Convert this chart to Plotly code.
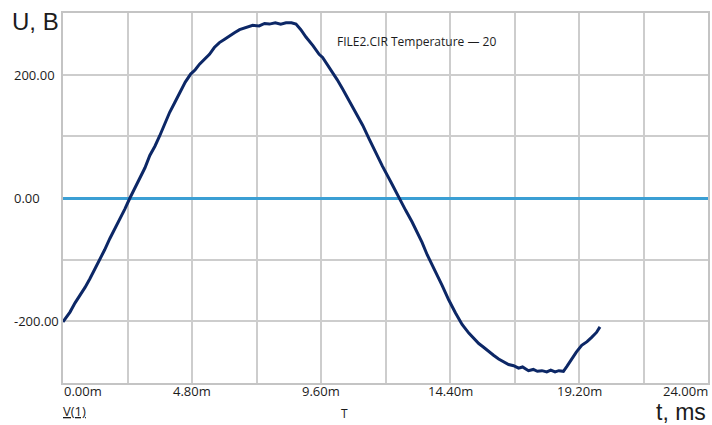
import plotly.graph_objects as go

# Transient response of node V(1): time in ms, voltage in volts
t_ms = [0.00, 0.26, 0.45, 0.63, 0.82, 1.00, 1.18, 1.37, 1.55, 1.74, 1.92, 2.11, 2.30, 2.49,
        2.67, 2.86, 3.05, 3.23, 3.42, 3.60, 3.79, 3.97, 4.15, 4.34, 4.55, 4.75, 4.92, 5.08,
        5.26, 5.45, 5.63, 5.82, 6.00, 6.19, 6.38, 6.57, 6.80, 7.06, 7.30, 7.50, 7.68, 7.90,
        8.10, 8.30, 8.50, 8.67, 8.85, 9.04, 9.30, 9.53, 9.66, 9.85, 10.03, 10.20, 10.40,
        10.65, 10.89, 11.15, 11.39, 11.63, 11.88, 12.20, 12.50, 12.75, 12.99, 13.18, 13.36,
        13.55, 13.74, 13.92, 14.11, 14.35, 14.60, 14.85, 15.10, 15.30, 15.47, 15.65, 15.84,
        16.02, 16.21, 16.40, 16.58, 16.77, 16.95, 17.10, 17.32, 17.50, 17.65, 17.82, 18.00,
        18.15, 18.31, 18.45, 18.62, 18.75, 18.93, 19.10, 19.30, 19.50, 19.67, 19.85, 19.98]
u_volts = [-201, -185, -170, -158, -145, -131, -116, -99, -84, -66, -51, -34, -18, 0,
           15, 31, 49, 69, 84, 101, 121, 139, 154, 171, 188, 201, 208, 217,
           224, 233, 244, 252, 257, 263, 268, 273, 276, 280, 279, 283, 282, 284,
           282, 284, 284, 282, 273, 261, 247, 233, 228, 216, 204, 192, 177,
           158, 139, 118, 96, 74, 52, 26, 0, -20, -39, -55, -72,
           -92, -110, -125, -142, -165, -186, -205, -219, -229, -236, -242, -249,
           -255, -261, -266, -270, -272, -276, -274, -280, -278, -281, -280, -282,
           -279, -282, -280, -281, -273, -261, -250, -239, -233, -226, -218, -209]

x_tick_vals = [0.0, 4.8, 9.6, 14.4, 19.2, 24.0]
x_tick_text = ["0.00m", "4.80m", "9.60m", "14.40m", "19.20m", "24.00m"]
y_tick_vals = [200, 0, -200]
y_tick_text = ["200.00", "0.00", "-200.00"]

W, H = 712, 425
ML, MR, MT, MB = 63, 2, 13, 42
PW, PH = W - ML - MR, H - MT - MB


def px_x(px):
    return (px - ML) / PW


def px_y(py):
    return 1 - (py - MT) / PH


LABEL_FONT = dict(family="Open Sans", size=13, color="#1c1c1c")
AXIS_NAME_FONT = dict(family="Liberation Sans", size=23, color="#1c1c1c")
GRID = "#cdcdcd"

fig = go.Figure()
fig.add_trace(go.Scatter(
    x=t_ms, y=u_volts, mode="lines",
    line=dict(color="#0c2766", width=3),
    hoverinfo="skip", showlegend=False,
))

annotations = []
# x tick labels: outer ones kept inside the frame
for v, txt in zip(x_tick_vals, x_tick_text):
    if v == x_tick_vals[0]:
        anchor, xs = "left", 0
    elif v == x_tick_vals[-1]:
        anchor, xs = "right", 1
    else:
        anchor, xs = "center", 0
    annotations.append(dict(x=v, y=0, xref="x", yref="paper", text=txt, showarrow=False,
                            xanchor=anchor, yanchor="middle", yshift=-7.5, xshift=xs,
                            borderpad=0, font=LABEL_FONT))
# y tick labels, left aligned
for v, txt in zip(y_tick_vals, y_tick_text):
    annotations.append(dict(x=px_x(13), y=v, xref="paper", yref="y", text=txt,
                            showarrow=False, xanchor="left", yanchor="middle",
                            borderpad=0, font=LABEL_FONT))

annotations += [
    dict(x=px_x(11), y=px_y(21), xref="paper", yref="paper", text="U, B", showarrow=False,
         xanchor="left", yanchor="middle", borderpad=0,
         font=dict(AXIS_NAME_FONT, size=24)),
    dict(x=px_x(709), y=px_y(411.8), xref="paper", yref="paper", text="t, ms",
         showarrow=False, xanchor="right", yanchor="middle", borderpad=0,
         font=AXIS_NAME_FONT),
    dict(x=px_x(62), y=px_y(411), xref="paper", yref="paper", text="<u>V(1)</u>",
         showarrow=False, xanchor="left", yanchor="middle", borderpad=0, font=LABEL_FONT),
    dict(x=px_x(345), y=px_y(413), xref="paper", yref="paper", text="T", showarrow=False,
         xanchor="center", yanchor="middle", borderpad=0,
         font=dict(family="Open Sans", size=12, color="#1c1c1c")),
    dict(x=px_x(337), y=px_y(42), xref="paper", yref="paper",
         text="FILE2.CIR Temperature \u2014 20", showarrow=False,
         xanchor="left", yanchor="middle", borderpad=0,
         font=dict(family="Open Sans", size=12, color="#1c1c1c")),
]

fig.update_layout(
    width=W, height=H,
    margin=dict(l=ML, r=MR, t=MT, b=MB, pad=0),
    paper_bgcolor="white", plot_bgcolor="white",
    annotations=annotations,
    xaxis=dict(range=[0, 24], dtick=2.4, tick0=0, showticklabels=False, ticks="",
               showgrid=True, gridcolor=GRID, gridwidth=1.5, zeroline=False,
               showline=True, mirror=True, linecolor="#c4c4c4", linewidth=2),
    yaxis=dict(range=[-300, 300], dtick=100, tick0=0, showticklabels=False, ticks="",
               showgrid=True, gridcolor=GRID, gridwidth=1.5,
               zeroline=True, zerolinecolor="#3b9fd4", zerolinewidth=2.5,
               showline=True, mirror=True, linecolor="#c4c4c4", linewidth=2),
)

fig.write_html("out.html")
